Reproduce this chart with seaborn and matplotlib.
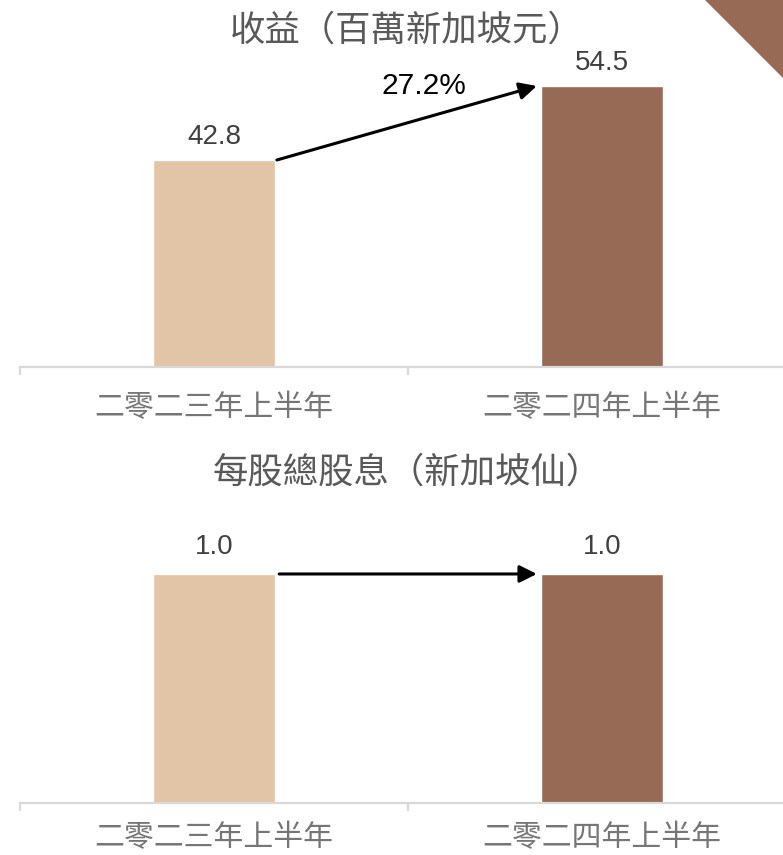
import matplotlib
matplotlib.use("Agg")
import matplotlib.pyplot as plt
from matplotlib.patches import Polygon
from matplotlib.ticker import FixedLocator
import seaborn as sns
import pandas as pd

# Data
periods = ["二零二三年上半年", "二零二四年上半年"]
revenue = [42.8, 54.5]          # S$ million
dividend = [1.0, 1.0]           # S$ cents per share
revenue_growth = "27.2%"

bar_colors = ["#E2C4A6", "#966A55"]
cjk = ["Noto Sans CJK TC", "DejaVu Sans"]

sns.set_theme(style="white")
plt.rcParams["font.family"] = cjk

fig = plt.figure(figsize=(7.83, 8.55), dpi=100)
W, H = 783, 855


def px_axes(left, top, right, bottom):
    return fig.add_axes([left / W, 1 - bottom / H, (right - left) / W, (bottom - top) / H])


def style_axis(ax, label_pad):
    ax.set_xlim(-0.5, 1.5)
    for side in ("left", "right", "top"):
        ax.spines[side].set_visible(False)
    ax.spines["bottom"].set_color("#D9D9D9")
    ax.spines["bottom"].set_linewidth(1.6)
    ax.set_yticks([])
    ax.set_xlabel("")
    ax.set_ylabel("")
    ax.xaxis.set_minor_locator(FixedLocator([-0.5, 0.5, 1.5]))
    ax.tick_params(axis="x", which="minor", bottom=True, length=6, width=1.6,
                   color="#D9D9D9", direction="out")
    ax.tick_params(axis="x", which="major", length=0, pad=label_pad,
                   labelsize=21.5, labelcolor="#767676")
    ax.patch.set_alpha(0)


def value_labels(ax, pad):
    for cont in ax.containers:
        ax.bar_label(cont, fmt="%.1f", padding=pad, fontsize=20,
                     color="#404040", family=["Liberation Sans", "DejaVu Sans"])


# Revenue panel
df_rev = pd.DataFrame({"period": periods, "value": revenue})
ax1 = px_axes(20, 0, 796, 367)
sns.barplot(data=df_rev, x="period", y="value", hue="period", palette=bar_colors,
            width=0.314, saturation=1, legend=False, ax=ax1)
ax1.set_ylim(10.07, 68.1)
style_axis(ax1, 18)
value_labels(ax1, 7)
ax1.annotate("", xy=(0.832, revenue[1]), xytext=(0.162, revenue[0]),
             arrowprops=dict(arrowstyle="-|>", color="black", lw=2.2,
                             mutation_scale=26, shrinkA=0, shrinkB=0))
ax1.text(0.54, 54.5, revenue_growth, ha="center", va="center", fontsize=21.5,
         color="black", family=["Liberation Sans", "DejaVu Sans"])

# Dividend panel
df_div = pd.DataFrame({"period": periods, "value": dividend})
ax2 = px_axes(20, 440, 796, 803)
sns.barplot(data=df_div, x="period", y="value", hue="period", palette=bar_colors,
            width=0.314, saturation=1, legend=False, ax=ax2)
ax2.set_ylim(0, 1.585)
style_axis(ax2, 14)
value_labels(ax2, 10)
ax2.annotate("", xy=(0.832, dividend[1]), xytext=(0.168, dividend[0]),
             arrowprops=dict(arrowstyle="-|>", color="black", lw=2.2,
                             mutation_scale=26, shrinkA=0, shrinkB=0))

# Panel titles
fig.text(407 / W, 1 - 31 / H, "收益（百萬新加坡元）", ha="center", va="center",
         fontsize=25.5, color="#595959")
fig.text(407 / W, 1 - 473 / H, "每股總股息（新加坡仙）", ha="center", va="center",
         fontsize=25.5, color="#595959")

# Corner accent
fig.patches.append(Polygon([(705 / W, 1.0), (1.0, 1.0), (1.0, 1 - 78 / H)],
                           closed=True, transform=fig.transFigure,
                           facecolor="#966A55", edgecolor="none"))

fig.savefig("out.png", dpi=100)
